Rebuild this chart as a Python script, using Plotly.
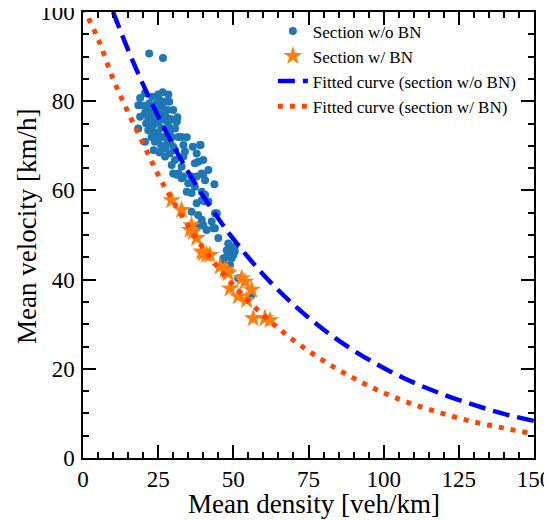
import plotly.graph_objects as go

# Section w/o BN (blue dots): density [veh/km], velocity [km/h]
wo_density = [22.0, 26.6,
    20.6, 19.0, 28.4, 25.4, 27.3, 18.4, 21.2, 23.9, 28.7, 30.0, 20.6, 23.4, 19.0, 22.8, 31.4, 31.2,
    23.4, 27.3, 28.4, 18.4, 30.6, 21.7, 28.9, 32.8, 34.5, 22.8, 20.6, 23.9, 33.4, 30.0, 36.5, 39.1,
    27.3, 28.9, 37.8, 30.6, 38.3, 33.4, 41.7, 39.5, 30.0, 33.4, 37.8,
    24.5, 22.8, 26.2, 21.7, 30.6, 25.0, 22.8, 28.4, 31.7, 25.0, 27.3, 30.6, 40.0, 29.5, 32.8, 37.2, 31.7,
    24.0, 25.0, 26.0, 27.0, 26.0, 24.0, 25.0, 27.0, 29.0, 26.0, 27.5, 22.0, 23.0, 25.0, 26.5, 28.0,
    29.0, 29.5, 24.0, 26.0, 28.0, 25.5, 21.0, 20.0, 23.5,
    36.1, 40.6, 43.7, 35.0, 37.2, 39.5, 40.6, 36.1, 37.8, 40.6, 44.5, 36.1, 38.3, 39.5, 42.8, 38.3,
    40.0, 41.1, 43.9, 45.0, 48.3, 49.4, 47.8, 50.5, 49.4, 46.7, 38.9, 33.9, 48.3, 47.8, 50.0, 48.9,
    46.7, 31.2, 32.8, 40.0, 34.5, 39.5, 41.7, 43.9, 43.3, 50.5, 49.4, 51.6, 56.1]
wo_velocity = [90.7, 89.7,
    81.8, 80.7, 81.5, 80.3, 79.9, 79.1, 78.8, 78.8, 79.9, 78.0, 77.3, 77.6, 76.5, 76.2, 76.4, 75.4,
    74.7, 75.8, 74.7, 73.9, 73.9, 73.5, 73.2, 72.0, 71.9, 72.0, 70.9, 70.9, 70.2, 69.8, 69.8, 70.2,
    67.6, 68.3, 68.3, 66.8, 66.4, 67.6, 64.6, 63.8, 63.8, 63.1, 63.1,
    79.5, 77.6, 78.4, 76.2, 75.8, 75.4, 73.9, 73.9, 72.0, 71.3, 69.4, 69.1, 66.8, 65.7, 65.3, 66.1, 63.8,
    78.0, 77.0, 76.0, 77.0, 74.0, 73.0, 72.5, 72.0, 71.0, 80.0, 76.5, 79.5, 81.0, 81.5, 82.0, 78.0,
    76.0, 72.0, 75.5, 70.0, 70.5, 68.5, 75.0, 79.0, 69.0,
    63.1, 62.3, 61.4, 61.6, 60.8, 59.7, 59.0, 59.4, 57.1, 57.5, 54.9, 55.2, 54.5, 53.4, 53.0, 52.2,
    52.2, 51.1, 51.5, 49.3, 48.1, 47.0, 46.6, 47.4, 45.9, 44.8, 70.2, 68.7, 46.3, 45.1, 45.5, 43.3,
    44.4, 63.5, 62.7, 63.5, 59.7, 57.8, 57.5, 54.9, 51.5, 46.3, 44.8, 40.3, 36.5]

# Section w/ BN (orange stars)
w_density = [29.5, 32.8, 36.1, 35.6, 37.8, 39.5, 41.1, 45.6, 47.2, 48.3, 53.9, 48.9, 51.6, 56.1,
             54.4, 56.6, 60.5, 62.2, 36.7, 40.0, 42.2, 47.8, 52.8]
w_velocity = [57.8, 55.6, 52.2, 51.1, 49.3, 46.3, 45.5, 42.9, 42.2, 41.4, 39.5, 38.0, 36.2, 37.7,
              35.4, 31.3, 31.3, 30.9, 50.7, 45.9, 45.5, 41.8, 40.3]

# Fitted curves
fit_wo_density = [10, 15, 20, 25, 30, 35, 40, 45, 50, 60, 70, 80, 90, 100, 110, 120, 130, 140, 150]
fit_wo_velocity = [100, 91.5, 83.7, 76.6, 70.1, 64.1, 58.7, 53.7, 49.1, 41.1, 34.4, 28.8, 24.1,
                   20.2, 16.9, 14.2, 11.9, 9.9, 8.3]
fit_w_density = [0, 5, 10, 15, 20, 25, 30, 40, 50, 60, 70, 80, 90, 100, 110, 120, 130, 140, 150]
fit_w_velocity = [101, 94, 85, 77.5, 70.5, 63.5, 57.5, 47, 38.8, 32, 26.4, 21.8, 17.9, 14.6,
                  12.0, 9.9, 8.1, 6.7, 5.4]

x_ticks = [0, 25, 50, 75, 100, 125, 150]
y_ticks = [0, 20, 40, 60, 80, 100]
x_title = "Mean density [veh/km]"
y_title = "Mean velocity [km/h]"

FONT = "Liberation Serif, Times New Roman, serif"

fig = go.Figure()
fig.add_trace(go.Scatter(x=wo_density, y=wo_velocity, mode="markers", name="Section w/o BN",
                         marker=dict(color="#1f77b4", size=8, line=dict(width=0))))
fig.add_trace(go.Scatter(x=w_density, y=w_velocity, mode="markers", name="Section w/ BN",
                         marker=dict(color="#ff7f0e", size=14, symbol="star", line=dict(width=0))))
fig.add_trace(go.Scatter(x=fit_wo_density, y=fit_wo_velocity, mode="lines",
                         name="Fitted curve (section w/o BN)", line_shape="spline",
                         line=dict(color="#0000ff", width=4.5, dash="17px,8px")))
fig.add_trace(go.Scatter(x=fit_w_density, y=fit_w_velocity, mode="lines",
                         name="Fitted curve (section w/ BN)", line_shape="spline",
                         line=dict(color="#ff4500", width=5, dash="5px,7px")))

axis_common = dict(showline=True, linecolor="black", linewidth=1.5, mirror="ticks",
                   ticks="inside", ticklen=13, tickwidth=1.5, tickcolor="black",
                   showgrid=False, zeroline=False, automargin=False, ticklabeloverflow="allow",
                   tickfont=dict(family=FONT, size=23, color="black"),
                   minor=dict(ticks="inside", ticklen=6, tickwidth=1.5, tickcolor="black", dtick=5))

fig.update_xaxes(range=[0, 150], tickvals=x_ticks, ticktext=[str(v) for v in x_ticks], **axis_common)
fig.update_yaxes(range=[0, 100], tickvals=y_ticks, ticktext=[str(v) for v in y_ticks],
                 ticklabelstandoff=2, **axis_common)

fig.add_annotation(text=x_title, xref="paper", yref="paper", x=0.513, y=0,
                   xanchor="center", yanchor="middle", yshift=-46, showarrow=False,
                   font=dict(family=FONT, size=27, color="black"))
fig.add_annotation(text=y_title, xref="paper", yref="paper", x=0, y=0.518,
                   xanchor="center", yanchor="middle", xshift=-56, textangle=-90, showarrow=False,
                   font=dict(family=FONT, size=27, color="black"))

# The page body has an 8px margin, so the figure is sized/placed to compensate.
fig.update_layout(
    width=544, height=512, autosize=False,
    margin=dict(l=75, r=18, t=4, b=62),
    paper_bgcolor="white", plot_bgcolor="white",
    font=dict(family=FONT, color="black"),
    legend=dict(x=0.421, y=0.997, xanchor="left", yanchor="top",
                bgcolor="rgba(0,0,0,0)", font=dict(family=FONT, size=17, color="black"),
                itemwidth=30, tracegroupgap=0),
    showlegend=True,
)

fig.write_html("out.html")
